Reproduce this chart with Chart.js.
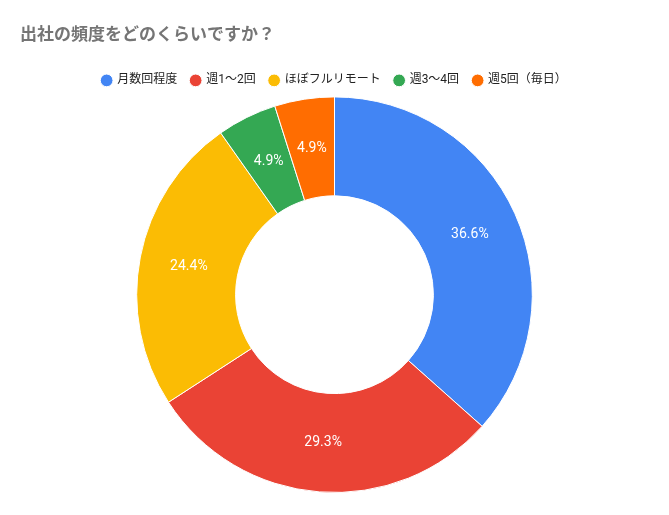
<!DOCTYPE html>
<html>
<head>
<meta charset="utf-8">
<script src="https://cdn.jsdelivr.net/npm/chart.js@4"></script>
<style>
  body { margin: 0; background: #fff; }
  #wrap { width: 669px; height: 515px; }
</style>
</head>
<body>
<div id="wrap"><canvas id="mycanvas"></canvas></div>
<script>
var labels = ['月数回程度', '週1〜2回', 'ほぼフルリモート', '週3〜4回', '週5回（毎日）'];
var counts = [15, 12, 10, 2, 2];
var colors = ['#4285f4', '#ea4335', '#fbbc04', '#34a853', '#ff6d01'];

// percentage text inside each slice
var sliceLabels = {
	id: 'sliceLabels',
	afterDatasetsDraw: function(chart) {
		var ctx = chart.ctx;
		var meta = chart.getDatasetMeta(0);
		var total = counts.reduce(function(a, b) { return a + b; }, 0);
		ctx.save();
		ctx.font = '14px Roboto, Arial, sans-serif';
		ctx.fillStyle = '#ffffff';
		ctx.textAlign = 'center';
		ctx.textBaseline = 'middle';
		meta.data.forEach(function(arc, i) {
			var p = arc.tooltipPosition();
			ctx.fillText((counts[i] / total * 100).toFixed(1) + '%', p.x, p.y);
		});
		ctx.restore();
	}
};

new Chart(document.getElementById('mycanvas'), {
	type: 'doughnut',
	data: {
		labels: labels,
		datasets: [{
			data: counts,
			backgroundColor: colors,
			borderColor: '#ffffff',
			borderWidth: 1
		}]
	},
	options: {
		responsive: true,
		maintainAspectRatio: false,
		animation: false,
		cutout: '50%',
		layout: { padding: { left: 20, right: 20, top: 0, bottom: 22 } },
		plugins: {
			title: {
				display: true,
				text: '出社の頻度をどのくらいですか？',
				align: 'start',
				color: '#757575',
				font: { size: 17, weight: 'bold', family: 'Roboto, "Noto Sans CJK JP", sans-serif' },
				padding: { top: 26, bottom: 14 }
			},
			legend: {
				position: 'top',
				labels: {
					usePointStyle: true,
					pointStyle: 'circle',
					boxWidth: 9,
					boxHeight: 9,
					padding: 14,
					color: '#222',
					font: { size: 12, family: 'Roboto, "Noto Sans CJK JP", sans-serif' }
				}
			},
			tooltip: { enabled: false }
		}
	},
	plugins: [sliceLabels]
});
</script>
</body>
</html>
